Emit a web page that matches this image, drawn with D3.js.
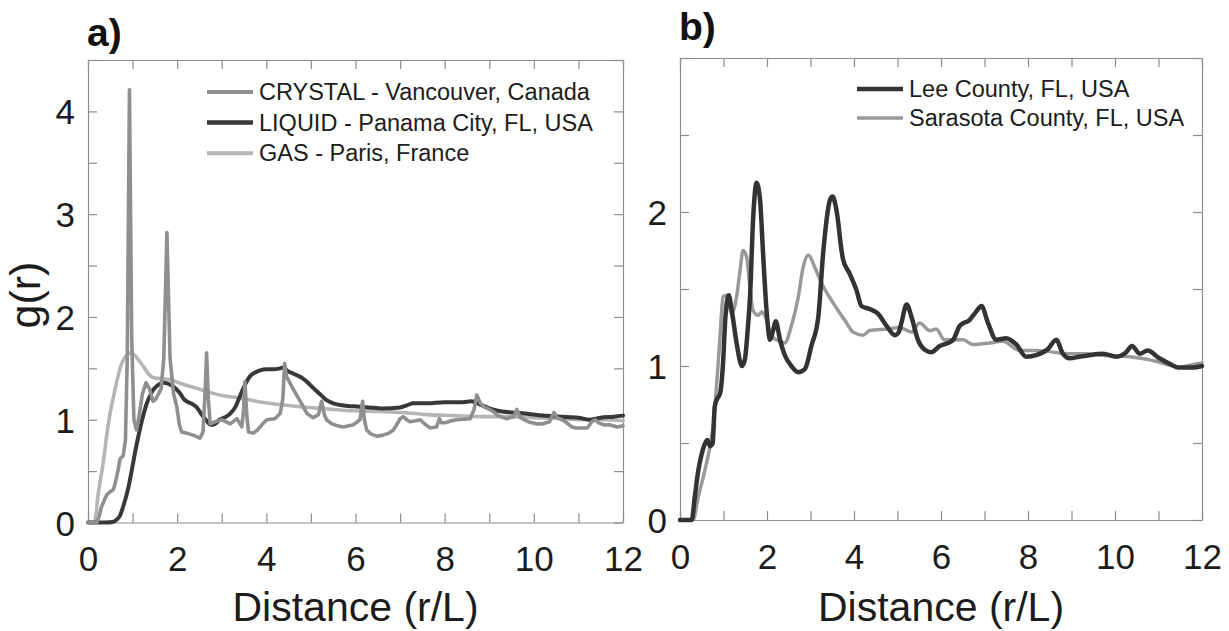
<!DOCTYPE html>
<html>
<head>
<meta charset="utf-8">
<script src="https://cdn.jsdelivr.net/npm/d3@7"></script>
<style>
  html, body { margin: 0; padding: 0; background: #fff; }
  svg { display: block; font-family: "Liberation Sans", Arial, sans-serif; }
</style>
</head>
<body>
<svg id="chart" width="1229" height="631"></svg>
<script>
// ---- Panel a: radial distribution functions ----
const crystalR = [0,0.2,0.25,0.3,0.35,0.42,0.5,0.57,0.62,0.68,0.72,0.79,0.84,0.88,0.93,0.98,1.03,1.09,1.15,1.22,1.3,1.38,1.46,1.52,1.58,1.64,1.7,1.77,1.84,1.92,1.99,2.05,2.1,2.2,2.36,2.51,2.58,2.63,2.66,2.7,2.74,2.85,3.0,3.1,3.19,3.34,3.45,3.49,3.52,3.56,3.6,3.71,3.8,3.9,4.01,4.19,4.31,4.37,4.41,4.45,4.49,4.6,4.68,4.8,4.91,5.05,5.17,5.24,5.3,5.35,5.47,5.6,5.73,5.95,6.1,6.16,6.2,6.25,6.35,6.48,6.62,6.75,6.85,6.95,7.0,7.07,7.15,7.22,7.35,7.45,7.55,7.67,7.82,7.88,7.93,8.01,8.15,8.27,8.57,8.66,8.72,8.8,8.87,9.09,9.2,9.39,9.55,9.62,9.7,9.87,10.05,10.2,10.35,10.45,10.52,10.68,10.85,10.95,11.2,11.3,11.38,11.45,11.57,11.7,11.87,12];
const crystalG = [0,0,0.06,0.15,0.2,0.27,0.3,0.32,0.4,0.52,0.62,0.65,0.8,1.6,4.21,1.8,1.0,0.9,1.05,1.25,1.36,1.3,1.18,1.2,1.25,1.3,1.6,2.82,1.6,1.25,1.13,0.95,0.88,0.87,0.85,0.82,0.88,1.3,1.65,1.2,0.96,0.98,1.0,0.98,0.96,1.01,0.93,1.1,1.37,1.05,0.88,0.87,0.9,0.95,1.0,1.01,1.06,1.2,1.55,1.42,1.39,1.3,1.24,1.15,1.06,1.02,1.05,1.18,1.05,1.0,0.96,0.94,0.93,0.95,1.0,1.18,1.0,0.9,0.86,0.84,0.85,0.87,0.9,0.97,1.01,1.03,1.0,0.98,0.99,1.0,0.96,0.92,0.93,1.01,0.97,0.97,0.99,1.0,1.01,1.1,1.24,1.16,1.13,1.08,1.04,1.01,1.03,1.1,1.02,0.98,0.96,0.96,0.98,1.07,1.02,0.99,0.93,0.92,0.92,0.98,1.0,0.97,0.95,0.95,0.93,0.94];

const liquidR = [0,0.4,0.55,0.65,0.72,0.8,0.9,1.0,1.05,1.12,1.17,1.25,1.32,1.4,1.46,1.55,1.69,1.8,1.92,2.06,2.15,2.25,2.35,2.44,2.55,2.66,2.75,2.85,2.95,3.1,3.19,3.3,3.4,3.5,3.63,3.75,3.86,4.0,4.15,4.31,4.4,4.46,4.6,4.75,4.91,5.05,5.2,5.35,5.5,5.7,5.95,6.3,6.6,7.0,7.15,7.3,7.6,8.0,8.4,8.6,8.79,9.0,9.17,9.5,9.8,10.2,10.6,11.0,11.25,11.5,11.8,12];
const liquidG = [0,0,0.005,0.03,0.07,0.17,0.33,0.55,0.67,0.82,0.92,1.06,1.16,1.24,1.29,1.33,1.36,1.35,1.32,1.26,1.2,1.17,1.15,1.12,1.05,0.99,0.95,0.96,1.0,1.03,1.06,1.12,1.22,1.32,1.42,1.46,1.48,1.49,1.49,1.5,1.51,1.48,1.45,1.42,1.37,1.31,1.25,1.19,1.16,1.14,1.13,1.12,1.11,1.12,1.14,1.16,1.16,1.17,1.17,1.18,1.15,1.11,1.09,1.07,1.06,1.04,1.03,1.02,1.0,1.02,1.03,1.04];

const gasR = [0,0.12,0.17,0.22,0.28,0.34,0.42,0.49,0.57,0.65,0.72,0.79,0.87,0.94,1.02,1.1,1.24,1.35,1.46,1.6,1.84,2.1,2.4,2.7,2.96,3.41,3.9,4.46,5.2,5.8,6.55,7.07,7.6,8.2,8.8,9.4,10.0,10.6,11.2,11.6,12];
const gasG = [0,0,0.05,0.25,0.42,0.58,0.85,1.05,1.22,1.38,1.5,1.58,1.63,1.65,1.64,1.6,1.52,1.45,1.41,1.4,1.39,1.35,1.31,1.27,1.24,1.21,1.17,1.14,1.11,1.09,1.08,1.07,1.05,1.04,1.03,1.03,1.02,1.01,1.0,1.0,0.99];

// ---- Panel b: two Florida counties ----
const leeR = [0,0.27,0.34,0.42,0.5,0.58,0.63,0.69,0.75,0.8,0.86,0.92,0.99,1.04,1.08,1.12,1.19,1.3,1.38,1.42,1.49,1.56,1.61,1.68,1.76,1.84,1.91,1.99,2.07,2.14,2.2,2.3,2.41,2.56,2.72,2.87,3.02,3.18,3.29,3.37,3.45,3.51,3.57,3.63,3.69,3.75,3.9,4.06,4.17,4.36,4.55,4.75,4.94,5.03,5.09,5.21,5.32,5.47,5.66,5.78,5.97,6.16,6.28,6.43,6.66,6.8,6.93,7.08,7.27,7.5,7.73,7.96,8.19,8.46,8.65,8.8,8.96,9.18,9.41,9.72,10.03,10.26,10.39,10.57,10.75,11.02,11.29,11.46,11.8,12];
const leeG = [0,0,0.15,0.32,0.43,0.5,0.52,0.48,0.5,0.74,0.79,0.82,1.02,1.3,1.42,1.46,1.36,1.15,1.03,1.0,1.04,1.25,1.45,1.95,2.19,2.08,1.73,1.36,1.17,1.23,1.29,1.17,1.07,1.0,0.96,0.98,1.13,1.32,1.73,1.95,2.08,2.1,2.05,1.95,1.8,1.69,1.6,1.49,1.39,1.37,1.34,1.26,1.2,1.22,1.28,1.4,1.32,1.17,1.1,1.09,1.13,1.15,1.17,1.26,1.3,1.35,1.39,1.28,1.17,1.18,1.14,1.06,1.07,1.11,1.17,1.08,1.05,1.06,1.07,1.08,1.06,1.09,1.13,1.08,1.1,1.05,1.01,0.99,0.99,1.0];

const sarasotaR = [0,0.3,0.42,0.57,0.69,0.77,0.84,0.92,0.99,1.07,1.19,1.3,1.38,1.45,1.53,1.61,1.68,1.8,1.88,1.99,2.11,2.3,2.41,2.56,2.72,2.83,2.95,3.1,3.25,3.52,3.83,3.98,4.21,4.36,4.75,5.05,5.32,5.51,5.74,5.89,6.08,6.28,6.51,6.73,7.12,7.42,7.81,8.19,8.96,9.34,9.72,10.33,10.8,11.2,11.45,11.8,12];
const sarasotaG = [0,0,0.15,0.32,0.48,0.63,0.87,1.19,1.45,1.46,1.34,1.45,1.62,1.75,1.71,1.51,1.36,1.33,1.35,1.3,1.19,1.16,1.15,1.26,1.45,1.64,1.72,1.64,1.54,1.41,1.28,1.22,1.2,1.23,1.24,1.25,1.22,1.28,1.23,1.24,1.17,1.17,1.17,1.14,1.15,1.16,1.1,1.1,1.08,1.08,1.07,1.06,1.04,1.01,0.99,1.01,1.02];

// Axis ticks and labels
const xTicks = d3.range(0, 13, 1);
const xLabels = [0, 2, 4, 6, 8, 10, 12];
const yTicksA = d3.range(0, 4.51, 0.5);
const yLabelsA = [0, 1, 2, 3, 4];
const yTicksB = d3.range(0, 3.01, 0.5);
const yLabelsB = [0, 1, 2];

const legendA = ["CRYSTAL - Vancouver, Canada", "LIQUID - Panama City, FL, USA", "GAS - Paris, France"];
const legendB = ["Lee County, FL, USA", "Sarasota County, FL, USA"];

const svg = d3.select("#chart");
const toPts = (r, g) => r.map((v, i) => [v, g[i]]);

function drawPanel(opts) {
  const x = d3.scaleLinear().domain([0, 12]).range([opts.left, opts.right]);
  const y = d3.scaleLinear().domain([0, opts.ymax]).range([opts.bottom, opts.top]);
  const g = svg.append("g");
  const frame = "#8c8c8c";
  const tick = 9;

  const bottom = g.append("g").attr("transform", `translate(0,${opts.bottom})`)
    .call(d3.axisBottom(x).tickValues(xTicks).tickSize(-tick).tickSizeOuter(0).tickPadding(24)
      .tickFormat(d => xLabels.includes(d) ? d : ""));
  const top = g.append("g").attr("transform", `translate(0,${opts.top})`)
    .call(d3.axisTop(x).tickValues(xTicks).tickSize(-tick).tickSizeOuter(0).tickFormat(""));
  const left = g.append("g").attr("transform", `translate(${opts.left},0)`)
    .call(d3.axisLeft(y).tickValues(opts.yTicks).tickSize(-tick).tickSizeOuter(0).tickPadding(13)
      .tickFormat(d => opts.yLabels.includes(d) ? d : ""));
  const right = g.append("g").attr("transform", `translate(${opts.right},0)`)
    .call(d3.axisRight(y).tickValues(opts.yTicks).tickSize(-tick).tickSizeOuter(0).tickFormat(""));

  [bottom, top, left, right].forEach(a => {
    a.select(".domain").attr("stroke", frame).attr("stroke-width", 1.2);
    a.selectAll(".tick line").attr("stroke", frame).attr("stroke-width", 1.2);
    a.selectAll("text").attr("fill", "#1c1c1c").attr("font-size", 35)
      .attr("font-family", "'Liberation Sans', Arial, sans-serif");
  });
  left.selectAll("text").attr("dy", "0.36em");

  const line = d3.line().x(d => x(d[0])).y(d => y(d[1]));
  opts.series.forEach(s => {
    g.append("path")
      .datum(toPts(s.r, s.g))
      .attr("fill", "none")
      .attr("stroke", s.color)
      .attr("stroke-width", s.width)
      .attr("stroke-linejoin", "round")
      .attr("stroke-linecap", "round")
      .attr("d", line.curve(s.curve)(toPts(s.r, s.g)));
  });

  // legend
  opts.legend.forEach((lg, i) => {
    const ly = opts.legY + i * opts.legStep;
    g.append("line").attr("x1", opts.legX1).attr("x2", opts.legX2)
      .attr("y1", ly).attr("y2", ly)
      .attr("stroke", lg.color).attr("stroke-width", lg.width);
    g.append("text").attr("x", opts.legX2 + 6).attr("y", ly).attr("dy", "0.35em")
      .attr("font-size", 23.5).attr("fill", "#1c1c1c").text(lg.label);
  });

  // x title
  g.append("text").attr("x", (opts.left + opts.right) / 2).attr("y", 621)
    .attr("text-anchor", "middle").attr("font-size", 41).attr("fill", "#1c1c1c")
    .text("Distance (r/L)");

  // panel letter
  g.append("text").attr("x", opts.left - 1).attr("y", opts.letterY)
    .attr("font-size", 39).attr("font-weight", "bold")
    .attr("font-family", "'Liberation Sans Narrow', 'Liberation Sans', Arial, sans-serif")
    .attr("fill", "#111").text(opts.letter);
}

const cCrystal = "#8f8f8f", cLiquid = "#383838", cGas = "#b5b5b5";
const cLee = "#333333", cSarasota = "#999999";

drawPanel({
  left: 88, right: 623, top: 60, bottom: 522.5, ymax: 4.5,
  yTicks: yTicksA, yLabels: yLabelsA,
  series: [
    { r: gasR, g: gasG, color: cGas, width: 3.6, curve: d3.curveMonotoneX },
    { r: liquidR, g: liquidG, color: cLiquid, width: 4, curve: d3.curveMonotoneX },
    { r: crystalR, g: crystalG, color: cCrystal, width: 3.6, curve: d3.curveLinear }
  ],
  legend: [
    { label: legendA[0], color: cCrystal, width: 4 },
    { label: legendA[1], color: cLiquid, width: 4.5 },
    { label: legendA[2], color: cGas, width: 4 }
  ],
  legX1: 207, legX2: 253, legY: 92, legStep: 30.6,
  letter: "a)", letterY: 46
});

drawPanel({
  left: 680, right: 1202, top: 58, bottom: 520, ymax: 3,
  yTicks: yTicksB, yLabels: yLabelsB,
  series: [
    { r: sarasotaR, g: sarasotaG, color: cSarasota, width: 3.5, curve: d3.curveMonotoneX },
    { r: leeR, g: leeG, color: cLee, width: 4.5, curve: d3.curveMonotoneX }
  ],
  legend: [
    { label: legendB[0], color: cLee, width: 4.5 },
    { label: legendB[1], color: cSarasota, width: 3.5 }
  ],
  legX1: 857, legX2: 903, legY: 89, legStep: 29,
  letter: "b)", letterY: 40
});

// y-axis title for panel a
svg.append("text")
  .attr("transform", "translate(40,295) rotate(-90)")
  .attr("text-anchor", "middle").attr("font-size", 43).attr("fill", "#1c1c1c")
  .text("g(r)");
</script>
</body>
</html>
